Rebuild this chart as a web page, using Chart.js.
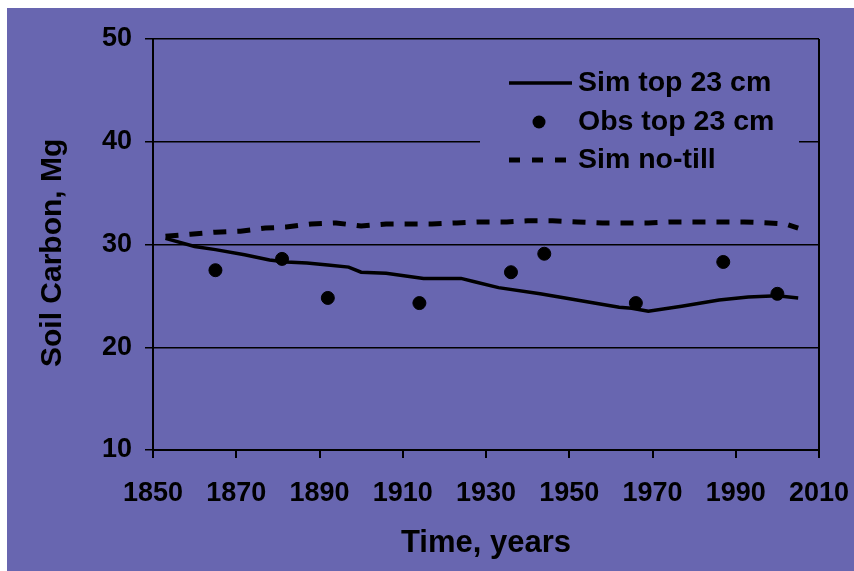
<!DOCTYPE html>
<html>
<head>
<meta charset="utf-8">
<script src="https://cdn.jsdelivr.net/npm/chart.js@4.4.0/dist/chart.umd.min.js"></script>
<style>
html, body { margin: 0; padding: 0; background: #fff; }
#wrap { position: absolute; left: 7px; top: 8px; width: 847px; height: 563px; background: #6866b0; }
</style>
</head>
<body>
<div id="wrap"><canvas id="chart" width="847" height="563"></canvas></div>
<script>
// Simulated soil carbon, top 23 cm (conventional).
const simYears = [1853, 1860, 1865, 1872, 1878, 1882, 1887, 1892, 1897, 1900, 1906, 1915, 1924,
	1927, 1933, 1943, 1949, 1956, 1962, 1965, 1969, 1977, 1986, 1993, 2000, 2005];
const simValues = [30.6, 29.8, 29.5, 29.0, 28.5, 28.3, 28.2, 28.0, 27.8, 27.3, 27.2, 26.7, 26.7,
	26.4, 25.8, 25.2, 24.8, 24.3, 23.9, 23.8, 23.5, 24.0, 24.6, 24.9, 25.0, 24.8];

// Observed soil carbon, top 23 cm.
const obsYears = [1865, 1881, 1892, 1914, 1936, 1944, 1966, 1987, 2000];
const obsValues = [27.5, 28.6, 24.8, 24.3, 27.3, 29.1, 24.3, 28.3, 25.2];

// Simulated no-till.
const noTillYears = [1853, 1859, 1865, 1871, 1877, 1882, 1888, 1894, 1900, 1906, 1912, 1917, 1923,
	1929, 1935, 1940, 1946, 1952, 1958, 1964, 1969, 1975, 1981, 1987, 1992, 1998, 2002, 2005];
const noTillValues = [30.8, 31.0, 31.2, 31.3, 31.6, 31.7, 32.0, 32.1, 31.8, 32.0, 32.0, 32.0, 32.1,
	32.2, 32.2, 32.3, 32.3, 32.2, 32.1, 32.1, 32.1, 32.2, 32.2, 32.2, 32.2, 32.1, 32.0, 31.6];

const seriesLabels = ["Sim top 23 cm", "Obs top 23 cm", "Sim no-till"];
const xTicks = [1850, 1870, 1890, 1910, 1930, 1950, 1970, 1990, 2010];
const yTicks = [10, 20, 30, 40, 50];

const bg = '#6866b0';
const font = 'Liberation Sans, Arial, sans-serif';

// Pair up x and y arrays for Chart.js.
function points(xs, ys) {
	return xs.map((x, i) => ({ x: x, y: ys[i] }));
}

// Legend drawn inside the plot, on an opaque box that hides the gridline behind it.
const insideLegend = {
	id: 'insideLegend',
	afterDatasetsDraw(chart) {
		const ctx = chart.ctx;
		const rows = [75, 114, 152];
		ctx.save();
		ctx.fillStyle = bg;
		ctx.fillRect(473, 46, 319, 138);
		chart.data.datasets.forEach(function (ds, i) {
			const y = rows[i];
			ctx.strokeStyle = '#000';
			ctx.fillStyle = '#000';
			if (ds.showLine === false) {
				ctx.beginPath();
				ctx.arc(532, y, 6.5, 0, Math.PI * 2);
				ctx.fill();
			} else {
				ctx.lineWidth = ds.borderWidth;
				ctx.setLineDash(ds.borderDash ? [11, 12] : []);
				ctx.beginPath();
				ctx.moveTo(502, y);
				ctx.lineTo(565, y);
				ctx.stroke();
				ctx.setLineDash([]);
			}
			ctx.font = 'bold 28.5px ' + font;
			ctx.textBaseline = 'middle';
			ctx.textAlign = 'left';
			ctx.fillText(ds.label, 571, y);
		});
		ctx.restore();
	}
};

new Chart(document.querySelector('#chart'), {
	type: 'line',
	data: {
		datasets: [{
			label: seriesLabels[0],
			data: points(simYears, simValues),
			borderColor: '#000',
			borderWidth: 3.5,
			pointRadius: 0,
			tension: 0
		}, {
			label: seriesLabels[1],
			data: points(obsYears, obsValues),
			showLine: false,
			pointRadius: 6.5,
			pointBackgroundColor: '#000',
			pointBorderColor: '#000'
		}, {
			label: seriesLabels[2],
			data: points(noTillYears, noTillValues),
			borderColor: '#000',
			borderWidth: 5,
			borderDash: [13, 11],
			borderCapStyle: 'butt',
			pointRadius: 0,
			tension: 0
		}]
	},
	options: {
		responsive: false,
		animation: false,
		devicePixelRatio: 1,
		layout: { padding: { top: 31, right: 35, left: 0, bottom: 0 } },
		plugins: { legend: { display: false }, tooltip: { enabled: false } },
		scales: {
			x: {
				type: 'linear',
				min: 1850,
				max: 2010,
				afterBuildTicks: function (scale) { scale.ticks = xTicks.map(v => ({ value: v })); },
				afterFit: function (scale) {
					scale.height = 121;
					// the end labels fit in the fixed margins, so no extra overhang
					scale.paddingLeft = 0;
					scale.paddingRight = 0;
				},
				grid: {
					color: c => (c.tick && c.tick.value === 2010) ? '#000' : 'rgba(0,0,0,0)',
					tickColor: '#000',
					tickLength: 8,
					lineWidth: 2
				},
				border: { color: '#000', width: 2 },
				ticks: {
					color: '#000',
					padding: 19,
					maxRotation: 0,
					font: { family: font, size: 27, weight: 'bold' },
					callback: v => String(v)
				},
				title: {
					display: true,
					text: 'Time, years',
					color: '#000',
					padding: { top: 0, bottom: 9 },
					font: { family: font, size: 31, weight: 'bold' }
				}
			},
			y: {
				min: 10,
				max: 50,
				afterBuildTicks: function (scale) { scale.ticks = yTicks.map(v => ({ value: v })); },
				afterFit: function (scale) {
					scale.width = 146;
					scale.paddingTop = 0;
					scale.paddingBottom = 0;
				},
				grid: { color: '#000', tickLength: 8, lineWidth: 1.5 },
				border: { color: '#000', width: 2 },
				ticks: {
					color: '#000',
					padding: 13,
					font: { family: font, size: 27, weight: 'bold' }
				},
				title: {
					display: true,
					// trailing spaces nudge the centred title down as in the original
					text: 'Soil Carbon, Mg  ',
					color: '#000',
					padding: { top: 28, bottom: 0 },
					font: { family: font, size: 30, weight: 'bold' }
				}
			}
		}
	},
	plugins: [insideLegend]
});
</script>
</body>
</html>
